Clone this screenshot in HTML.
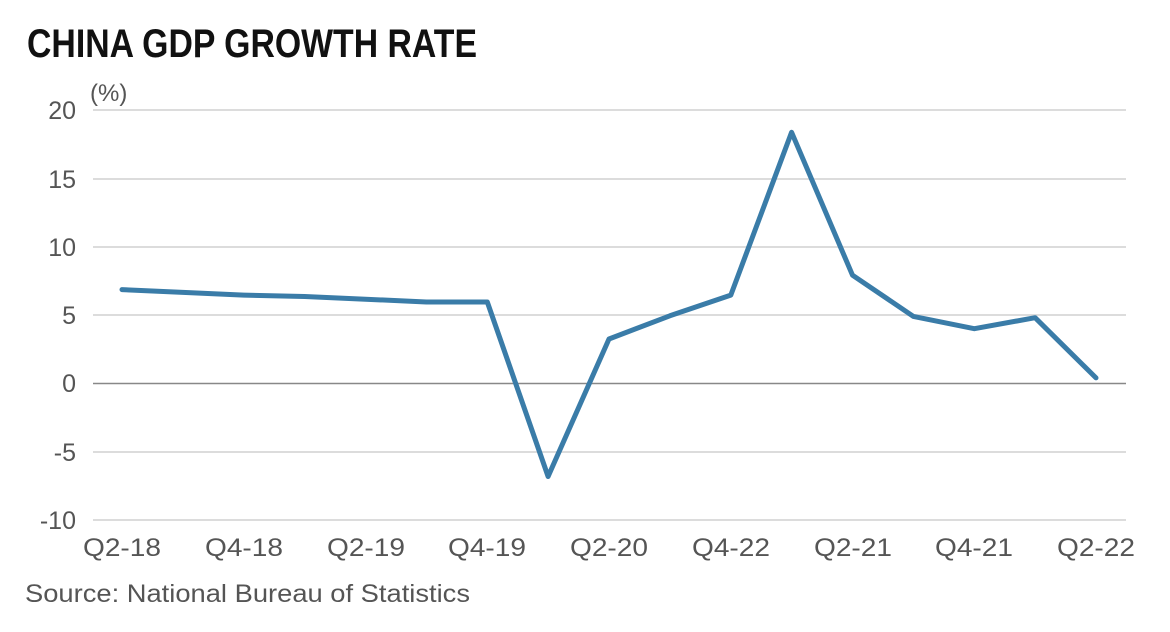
<!DOCTYPE html>
<html><head><meta charset="utf-8"><style>
html,body{margin:0;padding:0;background:#fff;}
svg{display:block;}
</style></head><body>
<svg width="1170" height="632" viewBox="0 0 1170 632" xmlns="http://www.w3.org/2000/svg" font-family="Liberation Sans, sans-serif">
<rect width="1170" height="632" fill="#fff"/>
<text x="27" y="57" font-size="40" font-weight="bold" fill="#111" textLength="450" lengthAdjust="spacingAndGlyphs">CHINA GDP GROWTH RATE</text>
<text x="90" y="101" font-size="24" fill="#555">(%)</text>
<g stroke="#dcdcdc" stroke-width="2">
<line x1="93" y1="110" x2="1126" y2="110"/>
<line x1="93" y1="179" x2="1126" y2="179"/>
<line x1="93" y1="247" x2="1126" y2="247"/>
<line x1="93" y1="315" x2="1126" y2="315"/>
<line x1="93" y1="452" x2="1126" y2="452"/>
<line x1="93" y1="520" x2="1126" y2="520"/>
</g>
<line x1="93" y1="383.5" x2="1126" y2="383.5" stroke="#888" stroke-width="1.5"/>
<g font-size="25" fill="#555" text-anchor="end">
<text x="76" y="119">20</text>
<text x="76" y="188">15</text>
<text x="76" y="256">10</text>
<text x="76" y="324">5</text>
<text x="76" y="392">0</text>
<text x="76" y="461">-5</text>
<text x="76" y="529">-10</text>
</g>
<g font-size="25" fill="#555" text-anchor="middle">
<text x="122" y="556" textLength="78" lengthAdjust="spacingAndGlyphs">Q2-18</text>
<text x="244" y="556" textLength="78" lengthAdjust="spacingAndGlyphs">Q4-18</text>
<text x="366" y="556" textLength="78" lengthAdjust="spacingAndGlyphs">Q2-19</text>
<text x="487" y="556" textLength="78" lengthAdjust="spacingAndGlyphs">Q4-19</text>
<text x="609" y="556" textLength="78" lengthAdjust="spacingAndGlyphs">Q2-20</text>
<text x="731" y="556" textLength="78" lengthAdjust="spacingAndGlyphs">Q4-22</text>
<text x="853" y="556" textLength="78" lengthAdjust="spacingAndGlyphs">Q2-21</text>
<text x="974" y="556" textLength="78" lengthAdjust="spacingAndGlyphs">Q4-21</text>
<text x="1096" y="556" textLength="78" lengthAdjust="spacingAndGlyphs">Q2-22</text>
</g>
<polyline fill="none" stroke="#3a7ca8" stroke-width="5" stroke-linejoin="round" stroke-linecap="round"
points="122,289.6 182.9,292.4 243.8,295.1 304.6,296.5 365.5,299.2 426.4,302.0 487.3,302.0 548.1,476.5 609,339.0 669.9,315.8 730.8,295.1 791.6,132.3 852.5,275.2 913.4,316.4 974.3,328.7 1035.1,317.7 1096,377.9"/>
<text x="25" y="602" font-size="25" fill="#555" textLength="445" lengthAdjust="spacingAndGlyphs">Source: National Bureau of Statistics</text>
</svg>
</body></html>
